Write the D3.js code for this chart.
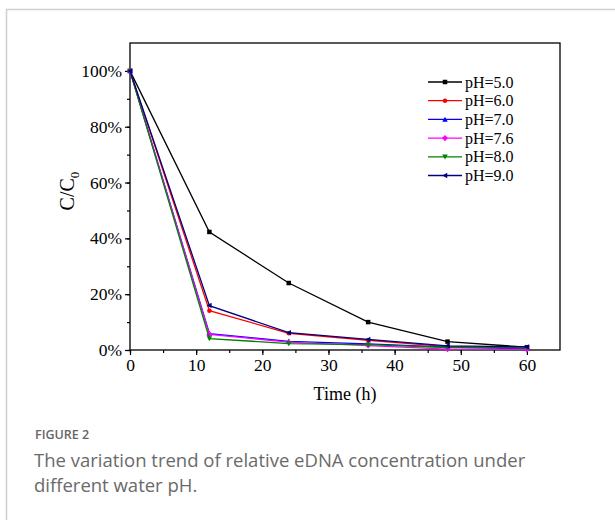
<!DOCTYPE html>
<html><head><meta charset="utf-8">
<script src="https://cdn.jsdelivr.net/npm/d3@7"></script>
<style>body{margin:0;background:#fff}</style>
</head><body>
<svg id="c" width="615" height="520"></svg>
<script>
const times = [0, 12, 24, 36, 48, 60];
const seriesNames = ["pH=5.0", "pH=6.0", "pH=7.0", "pH=7.6", "pH=8.0", "pH=9.0"];
const ph50 = [100, 42.3, 24.0, 10.0, 3.0, 1.0];
const ph60 = [100, 14.1, 6.0, 3.5, 1.2, 0.6];
const ph70 = [100, 5.9, 3.1, 2.2, 1.0, 0.5];
const ph76 = [100, 5.6, 2.8, 1.6, 0.3, 0.2];
const ph80 = [100, 4.1, 2.3, 1.9, 0.9, 0.7];
const ph90 = [100, 15.9, 6.2, 3.8, 1.5, 1.1];
const colors = ["#000000", "#ff0000", "#0000ff", "#ff00ff", "#008000", "#000080"];
const markers = ["square", "circle", "triUp", "diamond", "triDown", "triLeft"];
const xTicks = [0, 10, 20, 30, 40, 50, 60];
const yTicks = [0, 20, 40, 60, 80, 100];
const figureLabel = "FIGURE 2";
const captionLines = ["The variation trend of relative eDNA concentration under", "different water pH."];

const allSeries = [ph50, ph60, ph70, ph76, ph80, ph90];
const svg = d3.select("#c");

// card border
svg.append("path").attr("d", "M6.5,530 V9.5 H620").attr("fill", "none").attr("stroke", "#cfcfcf").attr("stroke-width", 1.5);

const L = 130, R = 560, T = 43, B = 350;
const x = d3.scaleLinear().domain([0, 65]).range([L, R]);
const y = d3.scaleLinear().domain([0, 110]).range([B, T]);
const serif = "'Liberation Serif','Times New Roman',serif";

// frame
svg.append("rect").attr("x", L).attr("y", T).attr("width", R - L).attr("height", B - T)
  .attr("fill", "none").attr("stroke", "#000").attr("stroke-width", 1.3);

// x axis
const gx = svg.append("g").attr("transform", `translate(0,${B})`);
gx.call(d3.axisBottom(x).tickValues(d3.range(0, 65, 5)).tickSize(3).tickFormat(""))
  .call(g => { g.select(".domain").remove(); g.selectAll("line").attr("stroke-width", 1.2); });
gx.append("g").call(d3.axisBottom(x).tickValues(xTicks).tickSize(5).tickPadding(4).tickFormat(d3.format("d")))
  .call(g => { g.select(".domain").remove(); g.selectAll("line").attr("stroke-width", 1.2);
    g.selectAll("text").style("font-family", serif).style("font-size", "17.5px").attr("fill", "#000"); });

// y axis
const gy = svg.append("g").attr("transform", `translate(${L},0)`);
gy.call(d3.axisLeft(y).tickValues(d3.range(0, 110, 10)).tickSize(3).tickFormat(""))
  .call(g => { g.select(".domain").remove(); g.selectAll("line").attr("stroke-width", 1.2); });
gy.append("g").call(d3.axisLeft(y).tickValues(yTicks).tickSize(5).tickPadding(3).tickFormat(d => d + "%"))
  .call(g => { g.select(".domain").remove(); g.selectAll("line").attr("stroke-width", 1.2);
    g.selectAll("text").style("font-family", serif).style("font-size", "17.5px").attr("fill", "#000"); });

// axis titles
svg.append("text").attr("x", (L + R) / 2).attr("y", 400).attr("text-anchor", "middle")
  .style("font-family", serif).style("font-size", "18px").text("Time (h)");
const yl = svg.append("text").attr("transform", `translate(74,191) rotate(-90)`)
  .attr("text-anchor", "middle").style("font-family", serif).style("font-size", "20px");
yl.append("tspan").text("C/C");
yl.append("tspan").style("font-size", "13px").attr("dy", 5).text("0");

function markerPath(type, s) {
  const h = s / 2;
  switch (type) {
    case "square": return `M${-h},${-h}H${h}V${h}H${-h}Z`;
    case "circle": return d3.symbol(d3.symbolCircle, s * s * 0.8)();
    case "triUp": return `M0,${-h - 0.5}L${h + 0.5},${h}L${-h - 0.5},${h}Z`;
    case "triDown": return `M0,${h + 0.5}L${h + 0.5},${-h}L${-h - 0.5},${-h}Z`;
    case "diamond": return `M0,${-h - 0.8}L${h + 0.8},0L0,${h + 0.8}L${-h - 0.8},0Z`;
    case "triLeft": return `M${-h - 0.5},0L${h},${-h - 0.5}L${h},${h + 0.5}Z`;
  }
}

const line = d3.line().x((d, i) => x(times[i])).y(d => y(d));
allSeries.forEach((vals, k) => {
  svg.append("path").attr("d", line(vals)).attr("fill", "none").attr("stroke", colors[k]).attr("stroke-width", 1.3);
  svg.selectAll(null).data(vals).enter().append("path")
    .attr("transform", (d, i) => `translate(${x(times[i])},${y(d)})`)
    .attr("d", markerPath(markers[k], 4.5)).attr("fill", colors[k]);
});

// legend
const lg = svg.append("g");
seriesNames.forEach((name, k) => {
  const yy = 82 + k * 18.7;
  lg.append("line").attr("x1", 428).attr("x2", 462).attr("y1", yy).attr("y2", yy).attr("stroke", colors[k]).attr("stroke-width", 1.3);
  lg.append("path").attr("transform", `translate(445,${yy})`).attr("d", markerPath(markers[k], 4.5)).attr("fill", colors[k]);
  lg.append("text").attr("x", 465).attr("y", yy + 5.5).style("font-family", serif).style("font-size", "16px").text(name);
});

// caption
svg.append("text").attr("x", 35).attr("y", 439).style("font-family", "'Open Sans',sans-serif")
  .style("font-size", "12.5px").attr("font-weight", 600).attr("fill", "#666").text(figureLabel);
captionLines.forEach((t, i) => {
  svg.append("text").attr("x", 34).attr("y", 467 + i * 25).style("font-family", "'Open Sans',sans-serif")
    .style("font-size", "18.5px").attr("fill", "#6a6a6a").text(t);
});
</script>
</body></html>
